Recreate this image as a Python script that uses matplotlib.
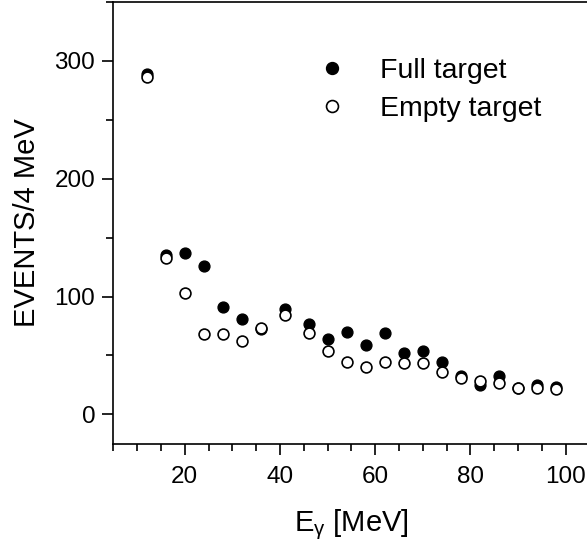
import matplotlib
matplotlib.use("Agg")
import matplotlib.pyplot as plt
from matplotlib.ticker import MultipleLocator

plt.rcParams['font.family'] = ['Liberation Sans', 'DejaVu Sans']
plt.rcParams['mathtext.fontset'] = 'custom'
plt.rcParams['mathtext.rm'] = 'Liberation Sans'
plt.rcParams['mathtext.it'] = 'Liberation Sans:italic'

# Data
energy = [12, 16, 20, 24, 28, 32, 36, 41, 46, 50, 54, 58, 62, 66, 70, 74, 78, 82, 86, 90, 94, 98]
full_target = [289, 135, 137, 126, 91, 81, 72, 89, 77, 64, 70, 59, 69, 52, 54, 44, 32.5, 25, 32.5, 22, 24.6, 23]
empty_target = [286, 133, 103, 68.5, 68.5, 62, 73.5, 84, 69, 54, 44, 40.5, 44, 43.5, 43.5, 36, 31, 28.5, 27, 22, 22.3, 21.2]

fig = plt.figure(figsize=(5.87, 5.5), dpi=100)
ax = fig.add_axes([113.3/587, 1 - 444/550, (589.5-113.3)/587, (444-1.5)/550])

ax.plot(energy, full_target, linestyle='none', marker='o', markersize=7.8,
        markerfacecolor='black', markeredgecolor='black', markeredgewidth=1.0,
        label='Full target', zorder=3)
ax.plot(energy, empty_target, linestyle='none', marker='o', markersize=7.8,
        markerfacecolor='white', markeredgecolor='black', markeredgewidth=1.2,
        label='Empty target', zorder=4)

ax.set_xlim(5, 105)
ax.set_ylim(-25.2, 350.4)
ax.xaxis.set_minor_locator(MultipleLocator(5))
ax.yaxis.set_minor_locator(MultipleLocator(50))
ax.set_xticks([20, 40, 60, 80, 100])
ax.set_yticks([0, 100, 200, 300])

for s in ax.spines.values():
    s.set_linewidth(1.2)
ax.tick_params(which='major', direction='out', length=8, width=1.2,
               labelsize=17.5, pad=5)
ax.tick_params(axis='x', which='major', pad=8)
ax.tick_params(which='minor', direction='out', length=5, width=1.2)

ax.set_xlabel(r'E$_{\mathregular{γ}}$ [MeV]', fontsize=21, labelpad=14)
ax.set_ylabel('EVENTS/4 MeV', fontsize=21, labelpad=10)

leg = ax.legend(loc='upper left', bbox_to_anchor=(315/587, 1 - 58/550),
                bbox_transform=fig.transFigure, frameon=False, fontsize=20.5,
                handlelength=1.2, handletextpad=1.1, labelspacing=0.42,
                borderaxespad=0, borderpad=0, markerscale=1.1)

fig.savefig('out.png', dpi=100)
